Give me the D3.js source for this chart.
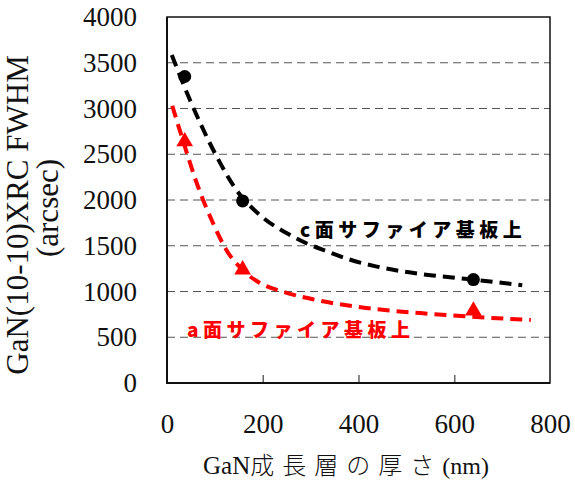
<!DOCTYPE html>
<html>
<head>
<meta charset="utf-8">
<script src="https://cdn.jsdelivr.net/npm/d3@7"></script>
<style>
  body { margin: 0; background: #fff; }
  svg { display: block; }
</style>
</head>
<body>
<div id="chart"></div>
<script>
// measured points
var thickness = [37, 158, 640];
var cPlane = [3350, 1990, 1130];
var aPlane = [2650, 1250, 800];

// fitted curves
var cFitX = [10, 48, 104, 145, 194, 256, 291, 333, 381, 436, 492, 555, 640, 742];
var cFitY = [3585, 3093, 2473, 2109, 1836, 1620, 1527, 1440, 1350, 1275, 1220, 1175, 1130, 1068];
var aFitX = [11, 33, 62, 96, 124, 158, 194, 242, 312, 416, 554, 760];
var aFitY = [3030, 2656, 2186, 1749, 1454, 1235, 1093, 998, 907, 820, 754, 689];

var xTicks = [0, 200, 400, 600, 800];
var yTicks = [0, 500, 1000, 1500, 2000, 2500, 3000, 3500, 4000];
var cLabel = "c面サファイア基板上";
var aLabel = "a面サファイア基板上";

var W = 575, H = 484;
var margin = {top: 17, right: 25, bottom: 101, left: 167};
var width = W - margin.left - margin.right,
    height = H - margin.top - margin.bottom;
var serif = "'Liberation Serif', serif";
var gothic = "'Noto Sans CJK JP', sans-serif";

var svg = d3.select("#chart").append("svg")
  .attr("width", W)
  .attr("height", H);
var g = svg.append("g")
  .attr("transform", "translate(" + margin.left + "," + margin.top + ")");

var x = d3.scaleLinear().domain([0, 800]).range([0, width]);
var y = d3.scaleLinear().domain([0, 4000]).range([height, 0]);

//Gridlines
g.selectAll(".grid")
  .data(yTicks.filter(function(d) { return d > 0 && d < 4000; }))
  .enter().append("line")
  .attr("x1", 0).attr("x2", width)
  .attr("y1", function(d) { return y(d); })
  .attr("y2", function(d) { return y(d); })
  .attr("stroke", "#555")
  .attr("stroke-width", 1)
  .attr("stroke-dasharray", "8,5");

//Y axis labels
var yAxis = g.append("g")
  .call(d3.axisLeft(y).tickValues(yTicks).tickFormat(d3.format("d")).tickSize(0).tickPadding(30));
yAxis.select(".domain").remove();
yAxis.selectAll("text")
  .style("font-family", serif)
  .style("font-size", "27px")
  .attr("fill", "#111");

//X axis with inner ticks
var xAxis = g.append("g")
  .attr("transform", "translate(0," + height + ")")
  .call(d3.axisBottom(x).tickValues(xTicks).tickFormat(d3.format("d")).tickSize(-8).tickPadding(31));
xAxis.select(".domain").remove();
xAxis.selectAll(".tick line")
  .attr("stroke", "#666")
  .attr("stroke-width", 1.5)
  .filter(function(d) { return d === 0 || d === 800; }).remove();
xAxis.selectAll("text")
  .style("font-family", serif)
  .style("font-size", "27px")
  .attr("fill", "#111");

//Frame
g.append("rect")
  .attr("width", width).attr("height", height)
  .attr("fill", "none")
  .attr("stroke", "#111")
  .attr("stroke-width", 1.5);
g.append("path")
  .attr("d", "M0,0V" + height + "H" + width)
  .attr("fill", "none")
  .attr("stroke", "#111")
  .attr("stroke-width", 2);

//Fitted curves
var line = d3.line()
  .x(function(d) { return x(d[0]); })
  .y(function(d) { return y(d[1]); })
  .curve(d3.curveMonotoneX);
g.append("path")
  .datum(d3.zip(cFitX, cFitY))
  .attr("d", line)
  .attr("fill", "none")
  .attr("stroke", "#000")
  .attr("stroke-width", 4)
  .attr("stroke-dasharray", "12,7");
g.append("path")
  .datum(d3.zip(aFitX, aFitY))
  .attr("d", line)
  .attr("fill", "none")
  .attr("stroke", "#ff0000")
  .attr("stroke-width", 4)
  .attr("stroke-dasharray", "12,7");

//Markers
g.selectAll(".cpt")
  .data(d3.zip(thickness, cPlane))
  .enter().append("circle")
  .attr("cx", function(d) { return x(d[0]); })
  .attr("cy", function(d) { return y(d[1]); })
  .attr("r", 6.5)
  .attr("fill", "#000");
g.selectAll(".apt")
  .data(d3.zip(thickness, aPlane))
  .enter().append("path")
  .attr("d", d3.symbol().type(d3.symbolTriangle).size(120))
  .attr("transform", function(d) { return "translate(" + x(d[0]) + "," + (y(d[1]) + 1) + ")"; })
  .attr("fill", "#ff0000");

//Series labels
svg.append("text")
  .attr("x", 300).attr("y", 237)
  .style("font-family", gothic)
  .style("font-weight", "900")
  .style("font-size", "19px")
  .style("letter-spacing", "4.5px")
  .attr("fill", "#000")
  .text(cLabel);
svg.append("text")
  .attr("x", 187).attr("y", 337)
  .style("font-family", gothic)
  .style("font-weight", "900")
  .style("font-size", "19px")
  .style("letter-spacing", "4.5px")
  .attr("fill", "#ff0000")
  .text(aLabel);

//X axis title, in three pieces so each keeps its own font
var xtParts = [
  {text: "GaN", font: serif, size: "25px", weight: "normal", spacing: "0px"},
  {text: "成長層の厚さ", font: gothic, size: "24px", weight: "300", spacing: "8px"},
  {text: "(nm)", font: serif, size: "24px", weight: "normal", spacing: "0px"}
];
var xtPos = 203;
xtParts.forEach(function(p) {
  var t = svg.append("text")
    .attr("x", xtPos).attr("y", 474)
    .style("font-family", p.font)
    .style("font-size", p.size)
    .style("font-weight", p.weight)
    .style("letter-spacing", p.spacing)
    .attr("fill", "#111")
    .text(p.text);
  xtPos += t.node().getComputedTextLength();
});

//Y axis title
svg.append("text")
  .attr("transform", "translate(28,215) rotate(-90)")
  .attr("text-anchor", "middle")
  .style("font-family", serif)
  .style("font-size", "31px")
  .attr("fill", "#111")
  .text("GaN(10-10)XRC FWHM");
svg.append("text")
  .attr("transform", "translate(58,208) rotate(-90)")
  .attr("text-anchor", "middle")
  .style("font-family", serif)
  .style("font-size", "31px")
  .attr("fill", "#111")
  .text("(arcsec)");
</script>
</body>
</html>
